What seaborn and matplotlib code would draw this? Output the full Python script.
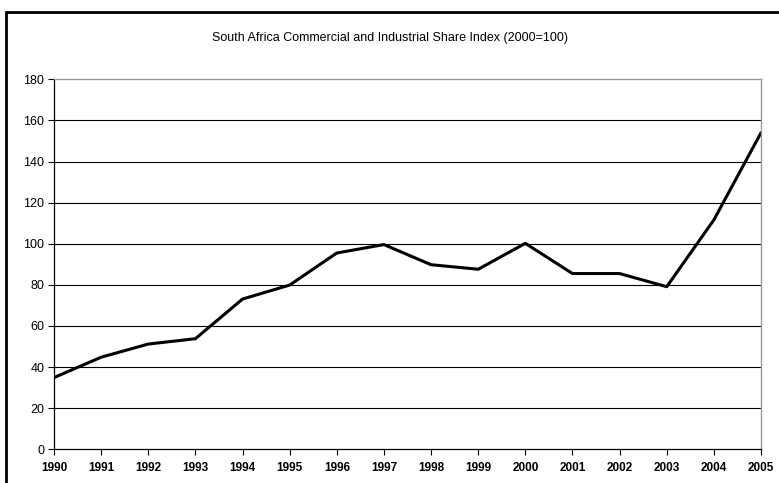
import pandas as pd
import seaborn as sns
import matplotlib.pyplot as plt
from matplotlib.patches import Rectangle

years = [1990, 1991, 1992, 1993, 1994, 1995, 1996, 1997,
         1998, 1999, 2000, 2001, 2002, 2003, 2004, 2005]
index_values = [34.9, 44.8, 51.2, 53.8, 73.1, 79.9, 95.5, 99.6,
                89.8, 87.6, 100.2, 85.5, 85.5, 79.1, 111.6, 154.0]
y_ticks = [0, 20, 40, 60, 80, 100, 120, 140, 160, 180]

df = pd.DataFrame({"Year": years, "Index": index_values})

sns.set_style("white")
plt.rcParams['font.family'] = ['Liberation Sans', 'DejaVu Sans']
plt.rcParams['text.color'] = 'black'
plt.rcParams['xtick.color'] = 'black'
plt.rcParams['ytick.color'] = 'black'

fig = plt.figure(figsize=(7.79, 4.83), dpi=100)
ax = fig.add_axes([54 / 779, 1 - 449.3 / 483, (761 - 54) / 779, (449.3 - 79.3) / 483])

sns.lineplot(data=df, x="Year", y="Index", ax=ax, color="black", linewidth=2.2)

ax.set_xlim(years[0], years[-1])
ax.set_ylim(0, 180)
ax.set_xticks(years)
ax.set_xticklabels([str(y) for y in years], fontsize=8.5, fontweight="bold")
ax.set_yticks(y_ticks)
ax.set_yticklabels([str(v) for v in y_ticks], fontsize=9)
ax.set_xlabel("")
ax.set_ylabel("")
ax.tick_params(axis="both", direction="out", length=4, width=0.8, color="black",
               labelcolor="black", left=True, bottom=True, pad=3)
ax.tick_params(axis="x", pad=5)

for v in y_ticks[1:-1]:
    ax.axhline(v, color="black", linewidth=0.8, zorder=0)

ax.spines["left"].set_color("black")
ax.spines["bottom"].set_color("black")
ax.spines["left"].set_linewidth(0.9)
ax.spines["bottom"].set_linewidth(0.9)
ax.spines["top"].set_color("#999999")
ax.spines["right"].set_color("#999999")
ax.spines["top"].set_linewidth(1.0)
ax.spines["right"].set_linewidth(1.0)

fig.text(390 / 779, 1 - 38 / 483, "South Africa Commercial and Industrial Share Index (2000=100)",
         ha="center", va="center", fontsize=9, color="black")

fig.patches.append(Rectangle((6 / 779, -0.1), 1.2, 1.1 - 12.5 / 483,
                             transform=fig.transFigure, fill=False,
                             edgecolor="black", linewidth=2))

fig.savefig("out.png", dpi=100)
